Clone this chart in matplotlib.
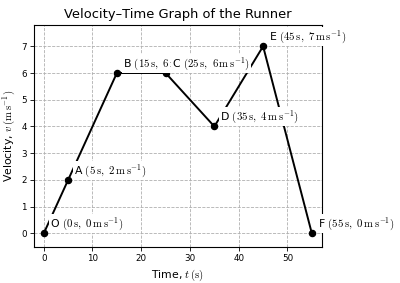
import matplotlib
matplotlib.use("Agg")
import matplotlib.pyplot as plt

plt.rcParams['mathtext.fontset'] = 'cm'

# points of the run
names = ['O', 'A', 'B', 'C', 'D', 'E', 'F']
t = [0, 5, 15, 25, 35, 45, 55]
v = [0, 2, 6, 6, 4, 7, 0]

fig = plt.figure(figsize=(4, 2.83), dpi=100)
ax = fig.add_axes([0.085, 0.128, 0.719, 0.784])

ax.plot(t, v, color='black', lw=1.4, marker='o', ms=4.4, zorder=3)

for n, x, y in zip(names, t, v):
    lab = n + r' $(%d\,\mathrm{s},\ %d\,\mathrm{m\,s^{-1}})$' % (x, y)
    ax.annotate(lab, (x, y), xytext=(4.3, 7), textcoords='offset points',
                ha='left', va='center', fontsize=7.8, zorder=4,
                bbox=dict(facecolor='white', edgecolor='none', pad=0.8))

ax.set_xlim(-2, 57)
ax.set_ylim(-0.5, 7.8)
ax.set_xticks([0, 10, 20, 30, 40, 50])
ax.set_yticks(range(8))
ax.tick_params(labelsize=6.3, width=0.6, length=2.8, pad=2.5)
ax.grid(True, linestyle='--', color='#b0b0b0', lw=0.6)
ax.set_axisbelow(True)
for s in ax.spines.values():
    s.set_linewidth(0.8)

ax.set_xlabel(r'Time, $t\,(\mathrm{s})$', fontsize=7.8, labelpad=3)
ax.set_ylabel(r'Velocity, $v\,(\mathrm{m\,s^{-1}})$', fontsize=7.8, labelpad=3)
ax.set_title('Velocity–Time Graph of the Runner', fontsize=9.4, pad=5)

fig.savefig('out.png', dpi=100)
